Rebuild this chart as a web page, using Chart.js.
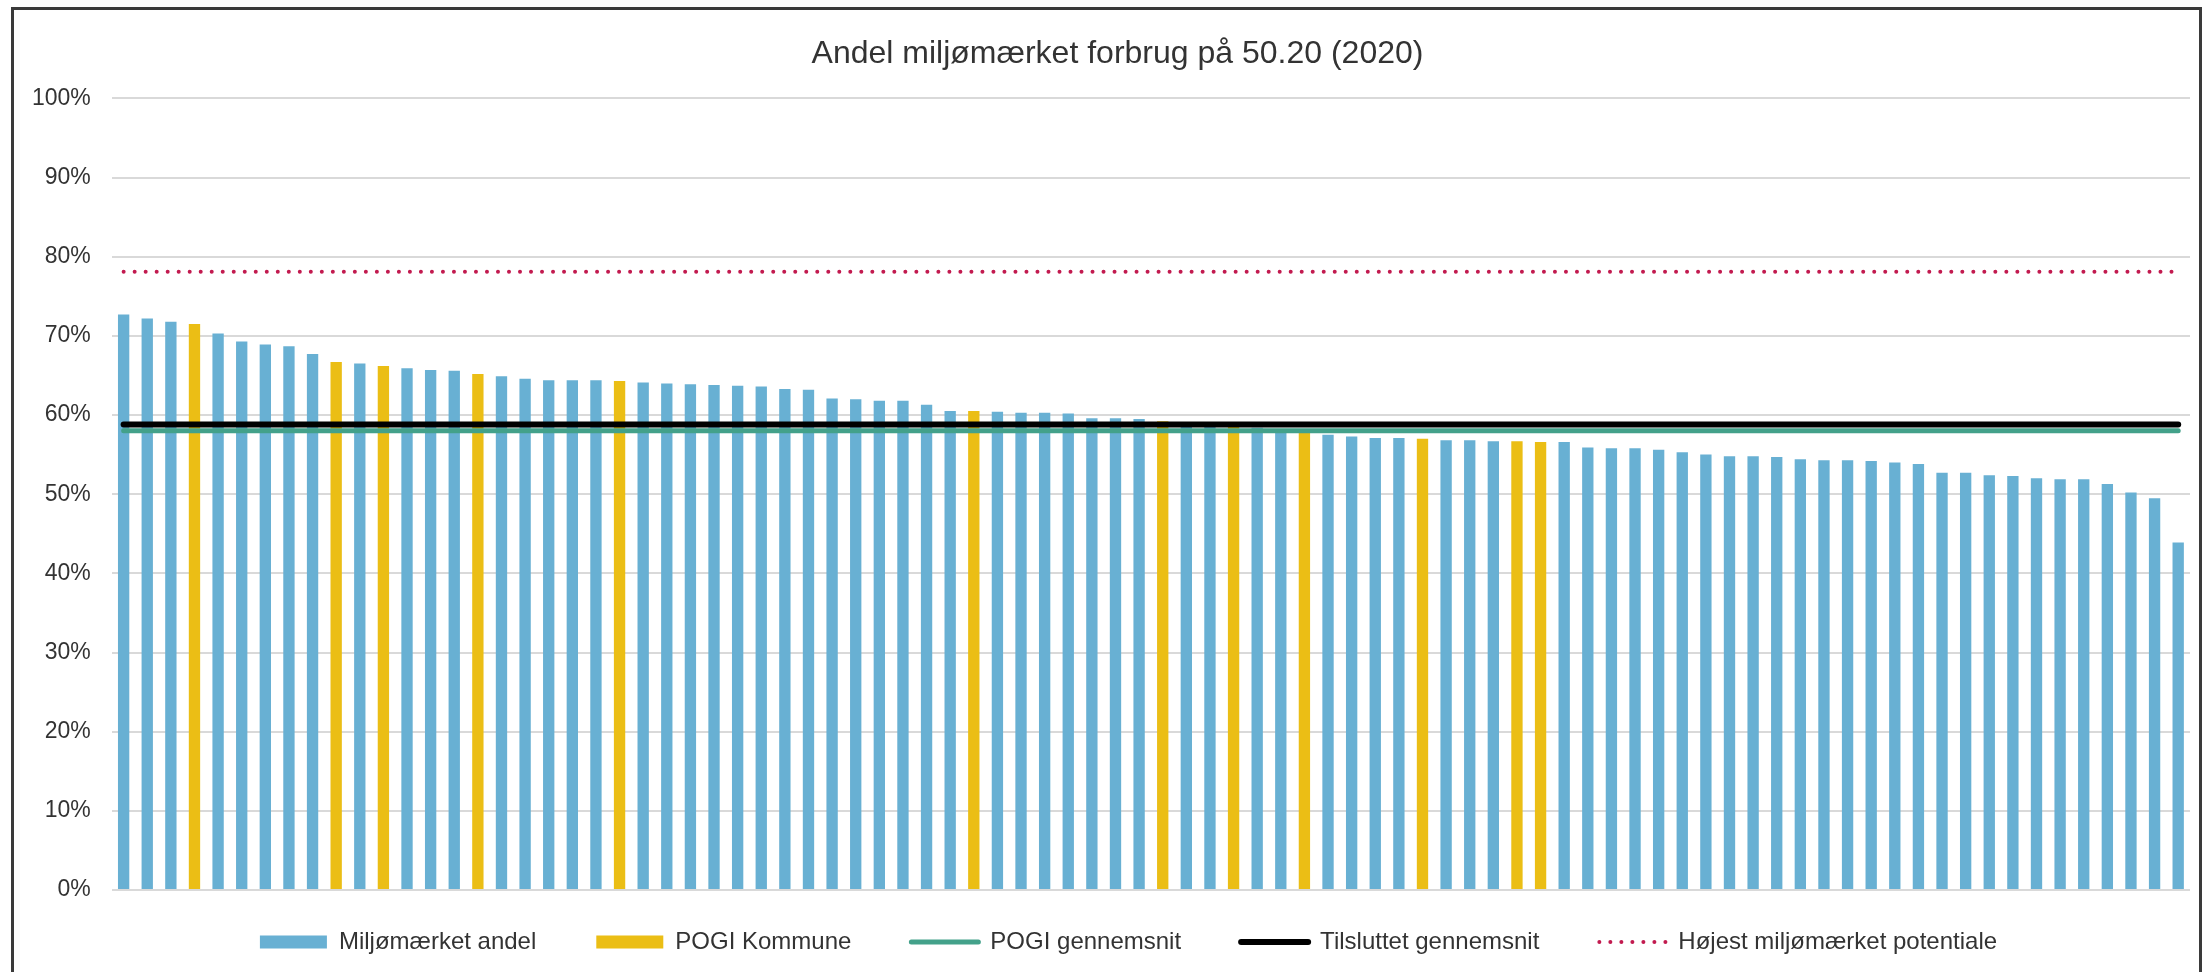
<!DOCTYPE html>
<html>
<head>
<meta charset="utf-8">
<script src="https://cdn.jsdelivr.net/npm/chart.js@4.4.1/dist/chart.umd.min.js"></script>
<style>
  html, body { margin: 0; padding: 0; background: #fff; }
  #ramme { position: absolute; left: 0; top: 0; width: 2203px; height: 972px; overflow: hidden; }
  #kant { position: absolute; left: 11px; top: 7px; width: 2191px; height: 990px; box-sizing: border-box; border: 3px solid #3a3a3a; }
  canvas { position: absolute; left: 0; top: 0; }
</style>
</head>
<body>
<div id="ramme">
  <canvas id="graf" width="2203" height="972"></canvas>
  <div id="kant"></div>
</div>
<script>
// Miljømærket andel pr. kommune (%), sorteret faldende
const andel = [
  72.7, 72.2, 71.8, 71.5, 70.3, 69.3, 68.9, 68.7, 67.7, 66.7,
  66.5, 66.2, 65.9, 65.7, 65.6, 65.2, 64.9, 64.6, 64.4, 64.4,
  64.4, 64.3, 64.1, 64.0, 63.9, 63.8, 63.7, 63.6, 63.3, 63.2,
  62.1, 62.0, 61.8, 61.8, 61.3, 60.5, 60.5, 60.4, 60.3, 60.3,
  60.2, 59.6, 59.6, 59.5, 59.2, 59.0, 58.8, 58.6, 58.4, 58.2,
  57.9, 57.5, 57.3, 57.1, 57.1, 57.0, 56.8, 56.8, 56.7, 56.7,
  56.6, 56.6, 55.9, 55.8, 55.8, 55.6, 55.3, 55.0, 54.8, 54.8,
  54.7, 54.4, 54.3, 54.3, 54.2, 54.0, 53.8, 52.7, 52.7, 52.4,
  52.3, 52.0, 51.9, 51.9, 51.3, 50.2, 49.5, 43.9
];

// Placering (1-baseret) af POGI-kommunerne i rækken
const pogiPlads = [4, 10, 12, 16, 22, 37, 45, 48, 51, 56, 60, 61];

// Vandrette referenceniveauer (%)
const pogiSnit = 58.0;
const tilsluttetSnit = 58.8;
const hoejestPotentiale = 78.1;

const yTicks = [0, 10, 20, 30, 40, 50, 60, 70, 80, 90, 100];

const kommuner = andel.map((v, i) => String(i + 1));
const blaa = andel.map((v, i) => pogiPlads.includes(i + 1) ? null : v);
const gul = andel.map((v, i) => pogiPlads.includes(i + 1) ? v : null);
const linje = v => andel.map(() => v);

const FARVE_BLAA = '#68b0d3';
const FARVE_GUL = '#ebbe15';
const FARVE_GROEN = '#43a18a';
const FARVE_SORT = '#000000';
const FARVE_ROED = '#c21a4f';
const TEKST = '#333333';
const SKRIFT = '"Liberation Sans", Arial, sans-serif';

// ekstra luft mellem forklaringerne (som i Excel-figuren)
const LUFT = '   ';

// Excel centrerer titel og forklaring lidt til højre for lærredets midte
const forskydning = {
  id: 'forskydning',
  afterLayout(chart) {
    if (chart.titleBlock) { chart.titleBlock.left += 17; chart.titleBlock.right += 17; }
    if (chart.legend) { chart.legend.left += 28; chart.legend.right += 28; }
  }
};

const ctx = document.getElementById('graf');

new Chart(ctx, {
  data: {
    labels: kommuner,
    datasets: [
      { type: 'bar', label: 'Miljømærket andel', data: blaa, backgroundColor: FARVE_BLAA, order: 5 },
      { type: 'bar', label: 'POGI Kommune', data: gul, backgroundColor: FARVE_GUL, order: 4 },
      { type: 'line', label: 'POGI gennemsnit', data: linje(pogiSnit), borderColor: FARVE_GROEN,
        borderWidth: 5, borderCapStyle: 'round', pointRadius: 0, order: 3 },
      { type: 'line', label: 'Tilsluttet gennemsnit', data: linje(tilsluttetSnit), borderColor: FARVE_SORT,
        borderWidth: 6, borderCapStyle: 'round', pointRadius: 0, order: 2 },
      { type: 'line', label: 'Højest miljømærket potentiale', data: linje(hoejestPotentiale), borderColor: FARVE_ROED,
        borderWidth: 4, borderCapStyle: 'round', borderDash: [0.01, 11], pointRadius: 0, order: 1 }
    ]
  },
  plugins: [forskydning],
  options: {
    responsive: false,
    animation: false,
    layout: { padding: { left: 11, right: 13, top: 0, bottom: 8 } },
    datasets: {
      bar: { categoryPercentage: 1, barPercentage: 0.48 }
    },
    scales: {
      x: {
        display: false,
        stacked: true,
        offset: true
      },
      y: {
        stacked: false,
        min: 0,
        max: 100,
        afterBuildTicks: axis => { axis.ticks = yTicks.map(v => ({ value: v })); },
        border: { display: false },
        grid: { color: '#d9d9d9', lineWidth: 2, drawTicks: false },
        ticks: {
          padding: 21,
          color: TEKST,
          font: { family: SKRIFT, size: 23 },
          callback: v => v + '%'
        }
      }
    },
    plugins: {
      title: {
        display: true,
        text: 'Andel miljømærket forbrug på 50.20 (2020)',
        color: TEKST,
        font: { family: SKRIFT, size: 32, weight: 'normal' },
        padding: { top: 35, bottom: 25 }
      },
      legend: {
        position: 'bottom',
        labels: {
          usePointStyle: true,
          pointStyleWidth: 67,
          boxHeight: 13,
          padding: 40,
          color: TEKST,
          font: { family: SKRIFT, size: 24 },
          generateLabels: chart => chart.data.datasets.map((ds, i, alle) => {
            const erSoejle = ds.type === 'bar';
            return {
              text: i < alle.length - 1 ? ds.label + LUFT : ds.label,
              datasetIndex: i,
              fontColor: TEKST,
              fillStyle: erSoejle ? ds.backgroundColor : 'rgba(0,0,0,0)',
              strokeStyle: erSoejle ? ds.backgroundColor : ds.borderColor,
              lineWidth: erSoejle ? 0 : ds.borderWidth,
              lineCap: 'round',
              lineDash: ds.borderDash || [],
              pointStyle: erSoejle ? 'rect' : 'line',
              hidden: false
            };
          })
        }
      },
      tooltip: { enabled: false }
    }
  }
});
</script>
</body>
</html>
